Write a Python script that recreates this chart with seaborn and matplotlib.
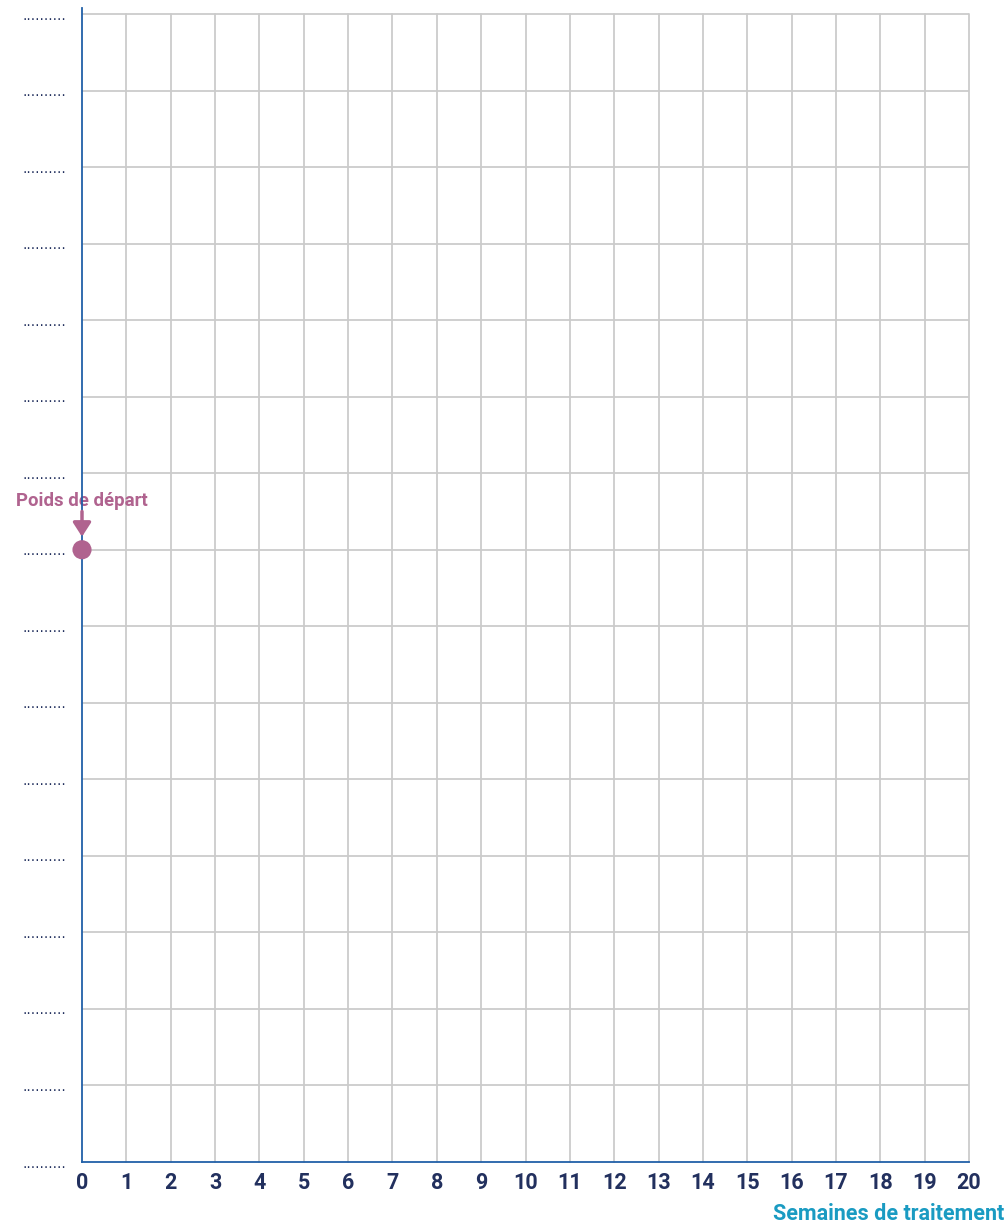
import matplotlib
matplotlib.use("Agg")
import matplotlib.pyplot as plt
import seaborn as sns
import pandas as pd

# Data
weeks = list(range(0, 21))
week_labels = [str(w) for w in weeks]
weight_levels = list(range(0, 16))
weight_labels = [".........."] * len(weight_levels)
start_week = [0]
start_level = [8]
start_label = "Poids de départ"
x_title = "Semaines de traitement"

sns.set_theme(style="white")
plt.rcParams['font.family'] = ['Roboto', 'DejaVu Sans']

W, H = 1007, 1224
fig = plt.figure(figsize=(W / 100, H / 100), dpi=100)
left_px, right_px, top_px, bottom_px = 82, 969, 8, 1162
ax = fig.add_axes([left_px / W, 1 - bottom_px / H, (right_px - left_px) / W, (bottom_px - top_px) / H])

navy = "#22305e"
blue = "#2160a8"
grid_c = "#cbcbcb"
mauve = "#b0638f"
teal = "#1a9bc2"

ytop = 15 + 6 / ((1162 - 14) / 15)
ax.set_xlim(0, 20)
ax.set_ylim(0, ytop)

for w in weeks[1:]:
    ax.axvline(w, color=grid_c, lw=1.3, zorder=1, clip_on=False, ymax=15 / ytop)
for lv in weight_levels[1:]:
    ax.axhline(lv, color=grid_c, lw=1.3, zorder=1)

for s in ["top", "right"]:
    ax.spines[s].set_visible(False)
for s in ["left", "bottom"]:
    ax.spines[s].set_color(blue)
    ax.spines[s].set_linewidth(1.3)
    ax.spines[s].set_zorder(3)

ax.set_xticks(weeks)
ax.set_xticklabels(week_labels, fontsize=15.5, fontweight="bold", color=navy)
ax.set_yticks(weight_levels)
ax.set_yticklabels(weight_labels, fontsize=10, color=navy, family="DejaVu Sans")
ax.tick_params(axis="x", length=0, pad=7)
ax.tick_params(axis="y", length=0, pad=11)

df = pd.DataFrame({"week": start_week, "level": start_level})
sns.scatterplot(data=df, x="week", y="level", ax=ax, s=190, color=mauve,
                edgecolor="none", zorder=5, clip_on=False, legend=False)
ax.set_xlabel("")
ax.set_ylabel("")

ax.annotate("", xy=(start_week[0], start_level[0] + 0.17), xytext=(start_week[0], start_level[0] + 0.5),
            arrowprops=dict(arrowstyle="-|>,head_width=0.45,head_length=0.7", color=mauve, lw=2.5,
                            shrinkA=0, shrinkB=0, mutation_scale=12),
            annotation_clip=False, zorder=6)
ax.text(start_week[0], start_level[0] + 0.64, start_label, ha="center", va="center",
        fontsize=13.4, fontweight="bold", color=mauve)

fig.text(1004 / W, 1 - 1214 / H, x_title, ha="right", va="center",
         fontsize=15.5, fontweight="bold", color=teal)

fig.savefig("out.png", dpi=100)
